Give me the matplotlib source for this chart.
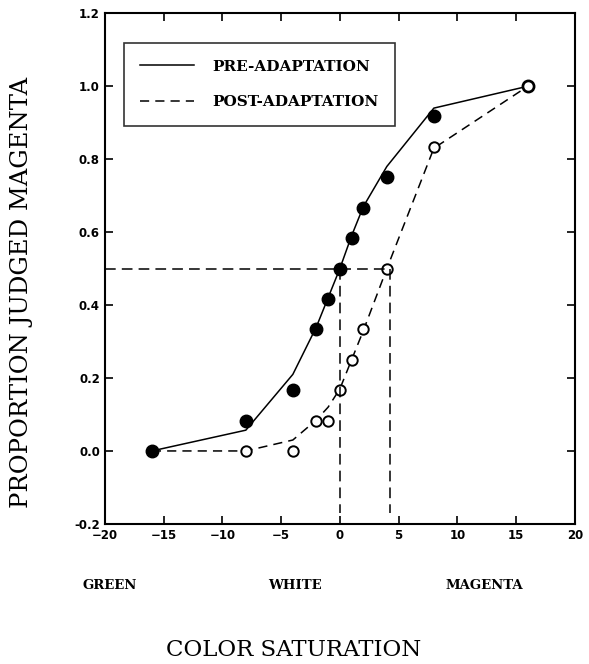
import numpy as np
import matplotlib.pyplot as plt

# observed data points
pre_x = [-16, -8, -4, -2, -1, 0, 1, 2, 4, 8, 16]
pre_y = [0.0, 0.083, 0.167, 0.333, 0.417, 0.5, 0.583, 0.667, 0.75, 0.917, 1.0]
post_x = [-8, -4, -2, -1, 0, 1, 2, 4, 8, 16]
post_y = [0.0, 0.0, 0.083, 0.083, 0.167, 0.25, 0.333, 0.5, 0.833, 1.0]

# fitted curves
fit_x = [-16, -8, -4, -2, -1, 0, 1, 2, 4, 8, 16]
pre_fit = [0.0, 0.057, 0.21, 0.34, 0.42, 0.5, 0.59, 0.67, 0.78, 0.94, 1.0]
post_fit = [0.0, 0.0, 0.03, 0.085, 0.12, 0.17, 0.25, 0.33, 0.5, 0.83, 1.0]

# 50% points
pse_pre = 0.0
pse_post = 4.3

color_labels = ['GREEN', 'WHITE', 'MAGENTA']
color_pos = [-19.6, -3.8, 12.3]

fig = plt.figure(figsize=(5.89, 6.64), dpi=100)
ax = fig.add_axes([0.178, 0.211, 0.798, 0.769])

ax.plot(fit_x, pre_fit, color='black', lw=1.1, label='PRE-ADAPTATION')
ax.plot(fit_x, post_fit, color='black', lw=1.1, ls=(0, (6, 4)), label='POST-ADAPTATION')
ax.plot(pre_x, pre_y, 'o', color='black', ms=9)
ax.plot(post_x, post_y, 'o', mfc='white', mec='black', mew=1.4, ms=7.5)

# dashed guides at 0.5
ax.plot([-20, pse_post], [0.5, 0.5], color='black', lw=1.1, ls=(0, (7, 4)))
ax.plot([pse_pre, pse_pre], [0.5, -0.17], color='black', lw=1.1, ls=(0, (7, 4)))
ax.plot([pse_post, pse_post], [0.5, -0.17], color='black', lw=1.1, ls=(0, (7, 4)))

ax.set_xlim(-20, 20)
ax.set_ylim(-0.2, 1.2)
ax.set_xticks(np.arange(-20, 21, 5))
ax.set_yticks(np.arange(-0.2, 1.21, 0.2))
ax.set_yticklabels(['%.1f' % v for v in np.arange(-0.2, 1.21, 0.2)])
ax.tick_params(direction='in', top=True, right=True, length=6, width=1.2)
for lab in ax.get_xticklabels() + ax.get_yticklabels():
    lab.set_fontweight('bold')
    lab.set_fontsize(8.5)
for s in ax.spines.values():
    s.set_linewidth(1.5)

leg = ax.legend(loc='upper left', bbox_to_anchor=(0.04, 0.942), frameon=True,
                fancybox=False, edgecolor='black', handlelength=3.5,
                prop={'family': 'DejaVu Serif', 'weight': 'bold', 'size': 11},
                borderpad=1.1, labelspacing=1.4, handletextpad=1.2, borderaxespad=0)
leg.get_frame().set_linewidth(1.2)

for lab, xp in zip(color_labels, color_pos):
    ax.text(xp, -0.37, lab, ha='center', va='center', fontsize=9.5,
            fontweight='bold', family='DejaVu Serif')

fig.text(0.498, 0.021, 'COLOR SATURATION', ha='center', va='center',
         fontsize=16.5, family='DejaVu Serif')
fig.text(0.036, 0.56, 'PROPORTION JUDGED MAGENTA', ha='center', va='center',
         rotation=90, fontsize=17.5, family='DejaVu Serif')

fig.savefig('out.png', dpi=100)
